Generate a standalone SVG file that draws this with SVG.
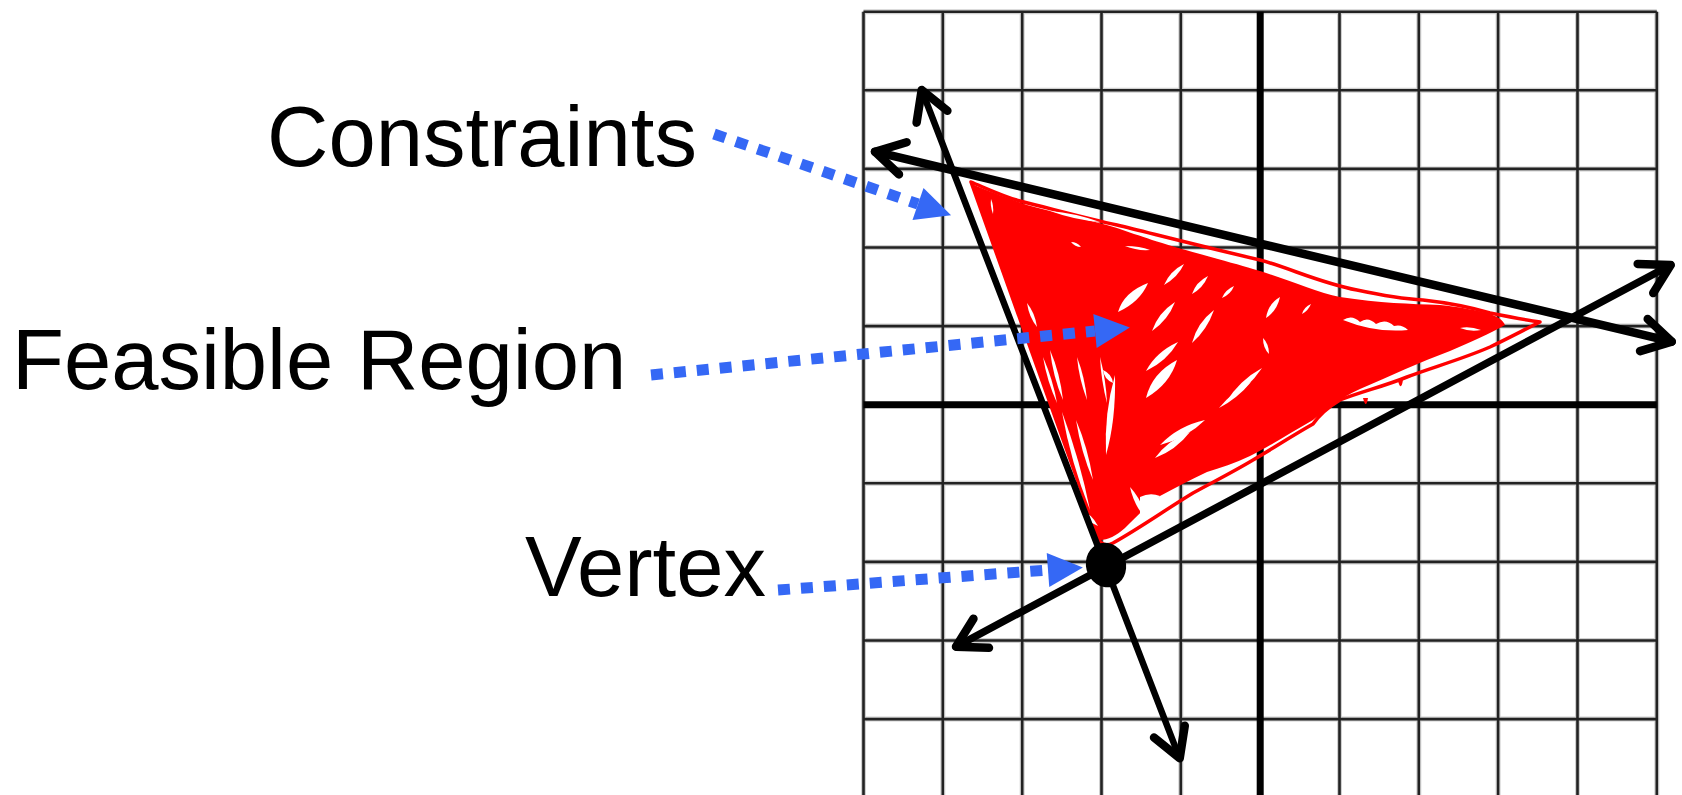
<svg xmlns="http://www.w3.org/2000/svg" width="1682" height="795" viewBox="0 0 1682 795">
<style>
.bg{fill:#ffffff}
.gblur{stroke:#8c8c8c;stroke-width:5;opacity:0.4;fill:none}
.g{stroke:#222;stroke-width:2.6;fill:none}
.axis{stroke:#000;stroke-width:7;fill:none}
.con{stroke:#000;fill:none;stroke-linecap:round;marker-start:url(#open);marker-end:url(#open)}
.red{fill:#ff0000}
.redline{fill:none;stroke:#ff0000;stroke-width:3.5;stroke-linejoin:round}
.gap{fill:#ffffff}
.blue{fill:none;stroke:#3568f5;stroke-width:11;stroke-dasharray:12 11;marker-end:url(#bhead)}
.lbl{font-family:"Liberation Sans",Arial,sans-serif;font-size:85px;fill:#000}
</style>
<defs>
<marker id="open" markerUnits="userSpaceOnUse" orient="auto-start-reverse" viewBox="-40 -25 50 50" markerWidth="50" markerHeight="50" refX="0" refY="0" overflow="visible">
<path d="M-28.6,-16.5 L0,0 L-28.6,16.5" fill="none" stroke="#000" stroke-width="8.5" stroke-linecap="round" stroke-linejoin="round"/>
</marker>
<marker id="bhead" markerUnits="userSpaceOnUse" orient="auto" viewBox="0 -18 36 36" markerWidth="36" markerHeight="36" refX="0" refY="0" overflow="visible">
<path d="M0,-17 L35,0 L0,17 Z" fill="#3568f5"/>
</marker>
</defs>
<rect class="bg" x="0" y="0" width="1682" height="795"/>
<g id="grid">
<g class="gblur">
<path d="M863.5,11.7V795M942.8,11.7V795M1022.2,11.7V795M1101.5,11.7V795M1180.8,11.7V795M1339.5,11.7V795M1418.8,11.7V795M1498.1,11.7V795M1577.5,11.7V795M1656.8,11.7V795"/>
<path d="M863.5,11.7H1656.8M863.5,90.3H1656.8M863.5,168.9H1656.8M863.5,247.5H1656.8M863.5,326.1H1656.8M863.5,483.3H1656.8M863.5,561.9H1656.8M863.5,640.5H1656.8M863.5,719.1H1656.8"/>
</g>
<g class="g">
<path d="M863.5,11.7V795M942.8,11.7V795M1022.2,11.7V795M1101.5,11.7V795M1180.8,11.7V795M1339.5,11.7V795M1418.8,11.7V795M1498.1,11.7V795M1577.5,11.7V795M1656.8,11.7V795"/>
<path d="M863.5,11.7H1656.8M863.5,90.3H1656.8M863.5,168.9H1656.8M863.5,247.5H1656.8M863.5,326.1H1656.8M863.5,483.3H1656.8M863.5,561.9H1656.8M863.5,640.5H1656.8M863.5,719.1H1656.8"/>
</g>
<path class="axis" d="M1260.2,11.7V795M863.5,404.7H1656.8"/>
</g>
<g id="feasible-region">
<path class="redline" d="M971,182 C990,190 1005,197 1020,201 C1060,211 1090,219 1117,225 C1150,233 1200,246 1260,260 C1290,268 1320,283 1357,290 C1385,296 1405,299 1423,300 C1450,303 1470,307 1490,313 C1510,317 1525,320 1540,322 C1520,332 1505,340 1490,347 C1460,360 1430,368 1407,377 C1385,386 1360,392 1340,400 C1330,406 1320,414 1313,424 C1290,437 1272,449 1253,460 C1233,472 1213,482 1193,493 C1165,510 1140,528 1113,543 C1107,546 1102,545 1099,540 Z"/>
<path class="red" d="M972,184 C990,192 1005,197 1027,205 C1060,214 1090,220 1117,228 C1140,236 1160,243 1200,254 C1225,261 1240,265 1253,269 C1285,278 1315,292 1340,297 C1380,303 1410,304 1440,305 C1460,307 1475,310 1487,313 C1497,316 1503,320 1505,325 C1490,334 1470,342 1450,351 C1420,362 1390,376 1360,389 C1340,398 1325,410 1313,420 C1292,432 1270,446 1250,456 C1235,463 1220,468 1207,472 C1190,480 1175,488 1160,496 C1148,505 1135,518 1125,528 C1116,536 1108,540 1100,540 Z"/>
<path class="red" d="M1363,398 Q1366,410 1368,398 Z M1398,381 Q1401,392 1403,380 Z"/>
<g id="scribble-gaps">
<path class="gap" d="M1184,264 Q1178,277 1164,285 Q1170,271 1184,264 Z"/>
<path class="gap" d="M1148,283 Q1140,302 1118,312 Q1124,292 1148,283 Z"/>
<path class="gap" d="M1208,276 Q1203,288 1192,294 Q1196,282 1208,276 Z"/>
<path class="gap" d="M1234,286 Q1231,294 1222,298 Q1225,290 1234,286 Z"/>
<path class="gap" d="M1175,302 Q1168,320 1152,331 Q1158,313 1175,302 Z"/>
<path class="gap" d="M1214,310 Q1207,330 1192,343 Q1197,323 1214,310 Z"/>
<path class="gap" d="M1178,342 Q1167,361 1146,371 Q1156,352 1178,342 Z"/>
<path class="gap" d="M1262,368 Q1247,390 1226,402 Q1240,380 1262,368 Z"/>
<path class="gap" d="M1280,297 Q1277,311 1266,318 Q1268,304 1280,297 Z"/>
<path class="gap" d="M1311,304 Q1308,311 1302,314 Q1304,307 1311,304 Z"/>
<path class="gap" d="M1263,338 Q1269,344 1269,354 Q1263,348 1263,338 Z"/>
<path class="gap" d="M1343,320 Q1352,314 1360,322 Q1368,316 1376,324 Q1386,318 1394,326 Q1402,324 1408,330 Q1375,333 1343,320 Z"/>
<path class="gap" d="M1460,328 Q1470,326 1481,330 Q1470,332 1460,328 Z"/>
<path class="gap" d="M1251,382 Q1238,398 1219,408 Q1232,392 1251,382 Z"/>
<path class="gap" d="M1177,360 Q1170,384 1146,398 Q1152,373 1177,360 Z"/>
<path class="gap" d="M1205,420 Q1187,438 1160,445 Q1178,426 1205,420 Z"/>
<path class="gap" d="M1190,432 Q1176,450 1155,458 Q1168,440 1190,432 Z"/>
<path class="gap" d="M1115,375 Q1116,420 1106,455 Q1104,413 1115,375 Z"/>
<path class="gap" d="M1062,412 Q1080,460 1090,510 Q1071,463 1062,412 Z"/>
<path class="gap" d="M1076,420 Q1088,448 1093,480 Q1081,452 1076,420 Z"/>
<path class="gap" d="M1130,487 Q1142,500 1147,520 Q1134,506 1130,487 Z"/>
<path class="gap" d="M1027,303 Q1035,313 1037,327 Q1029,317 1027,303 Z"/>
<path class="gap" d="M1050,350 Q1060,373 1063,400 Q1053,377 1050,350 Z"/>
<path class="gap" d="M1043,357 Q1053,380 1057,403 Q1047,381 1043,357 Z"/>
<path class="gap" d="M1100,357 Q1106,380 1107,403 Q1101,380 1100,357 Z"/>
<path class="gap" d="M1077,357 Q1085,378 1087,400 Q1079,379 1077,357 Z"/>
<path class="gap" d="M1103,370 Q1112,374 1113,383 Q1104,379 1103,370 Z"/>
<path class="gap" d="M1078,508 Q1092,514 1098,526 Q1084,520 1078,508 Z"/>
<path class="gap" d="M1140,497 Q1150,492 1160,496 Q1152,508 1140,515 Z"/>
<path class="gap" d="M1050,211 Q1075,213 1100,222 Q1075,220 1050,211 Z"/>
<path class="gap" d="M1071,242 Q1077,242 1081,247 Q1075,247 1071,242 Z"/>
<path class="gap" d="M991,199 Q994,206 993,214 Q990,206 991,199 Z"/>
<path class="gap" d="M1125,246 Q1140,246 1150,250 Q1137,251 1125,246 Z"/>
</g>
</g>
<g id="connectors">
<line class="con" stroke-width="6.5" x1="921.7" y1="90" x2="1179.7" y2="758.3"/>
<line class="con" stroke-width="8.5" x1="875" y1="151.7" x2="1671.7" y2="341.7"/>
<line class="con" stroke-width="7.5" x1="956" y1="646.7" x2="1670.7" y2="265"/>
<path class="blue" d="M714,134 L918,204"/>
<path class="blue" d="M651,375 L1095,331"/>
<path class="blue" d="M778,590 L1048,570"/>
</g>
<g id="vertex-dot">
<ellipse cx="1106" cy="565" rx="20" ry="22.5" transform="rotate(-15 1106 565)" fill="#000"/>
</g>
<g id="label-constraints"><text class="lbl" x="267" y="166">Constraints</text></g>
<g id="label-feasible"><text class="lbl" x="12" y="389">Feasible Region</text></g>
<g id="label-vertex"><text class="lbl" x="525" y="596">Vertex</text></g>
</svg>
